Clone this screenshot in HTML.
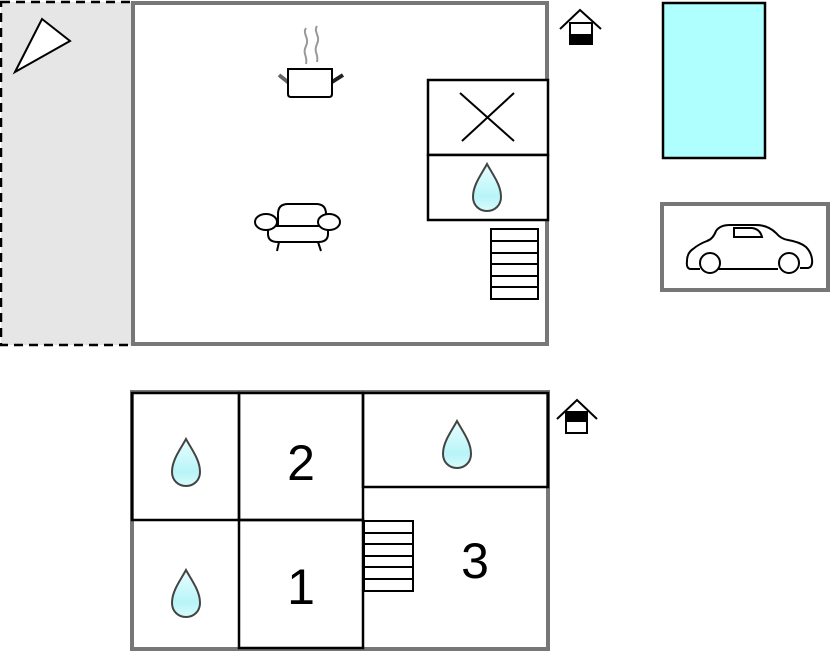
<!DOCTYPE html>
<html><head><meta charset="utf-8"><style>html,body{margin:0;padding:0;background:#fff;width:832px;height:652px;overflow:hidden}</style></head>
<body>
<svg width="832" height="652" viewBox="0 0 832 652" xmlns="http://www.w3.org/2000/svg">
<defs>
<linearGradient id="dg" x1="0" y1="0" x2="0" y2="1"><stop offset="0" stop-color="#e8ffff"/><stop offset="0.7" stop-color="#b8f4f8"/><stop offset="1" stop-color="#d8fcfc"/></linearGradient>
<path id="drop" d="M0,-23 C6,-12 14,-2 14,10 C14,18 8,24 0,24 C-8,24 -14,18 -14,10 C-14,-2 -6,-12 0,-23 Z" fill="url(#dg)" stroke="#444" stroke-width="2"/>
</defs>
<!-- terrace -->
<rect x="1" y="2" width="132" height="343" fill="#e6e6e6" stroke="#000" stroke-width="2.5" stroke-dasharray="9,6"/>
<polygon points="15,72 42,19 70,41" fill="#fff" stroke="#000" stroke-width="2"/>
<!-- main room -->
<rect x="133" y="3" width="414" height="341" fill="#fff" stroke="#777" stroke-width="4"/>
<!-- pot -->
<path d="M306,28 c-4,6 4,10 0,18 c-4,8 2,10 0,18 M317,26 c-4,6 4,10 0,18 c-4,8 2,10 0,18" fill="none" stroke="#999" stroke-width="2"/>
<line x1="279" y1="75" x2="289" y2="83" stroke="#666" stroke-width="4"/>
<line x1="332" y1="82" x2="343" y2="75" stroke="#222" stroke-width="4"/>
<path d="M288,69 H332 V94 q0,3 -3,3 H291 q-3,0 -3,-3 Z" fill="#fff" stroke="#000" stroke-width="2"/>
<!-- sofa -->
<path d="M278,214 q0,-10 10,-10 h28 q10,0 10,10 v12 h-48 Z" fill="#fff" stroke="#000" stroke-width="2"/>
<path d="M268,226 h60 v8 q0,8 -10,8 h-40 q-10,0 -10,-8 Z" fill="#fff" stroke="#000" stroke-width="2"/>
<ellipse cx="266" cy="222" rx="11" ry="8" fill="#fff" stroke="#000" stroke-width="2"/>
<ellipse cx="329" cy="222" rx="11" ry="8" fill="#fff" stroke="#000" stroke-width="2"/>
<line x1="279" y1="242" x2="277" y2="251" stroke="#000" stroke-width="2"/>
<line x1="318" y1="242" x2="321" y2="251" stroke="#000" stroke-width="2"/>
<!-- x box / bath -->
<rect x="428" y="80" width="120" height="75" fill="#fff" stroke="#000" stroke-width="2.5"/>
<rect x="428" y="155" width="120" height="65" fill="#fff" stroke="#000" stroke-width="2.5"/>
<line x1="460" y1="93" x2="514" y2="141" stroke="#000" stroke-width="2"/>
<line x1="514" y1="93" x2="462" y2="141" stroke="#000" stroke-width="2"/>
<use href="#drop" x="487" y="187"/>
<!-- stairs top -->
<g fill="#fff" stroke="#000" stroke-width="2">
<rect x="491" y="229" width="47" height="70"/>
<line x1="491" y1="241" x2="538" y2="241"/><line x1="491" y1="253" x2="538" y2="253"/><line x1="491" y1="264" x2="538" y2="264"/><line x1="491" y1="276" x2="538" y2="276"/><line x1="491" y1="287" x2="538" y2="287"/>
</g>
<!-- house icon top -->
<polyline points="560,29 580,10 601,29" fill="none" stroke="#000" stroke-width="2"/>
<rect x="570" y="23" width="22" height="21" fill="#fff" stroke="#000" stroke-width="2"/>
<rect x="570" y="34" width="22" height="11" fill="#000"/>
<!-- pool -->
<rect x="663" y="3" width="102" height="155" fill="#b0ffff" stroke="#000" stroke-width="2.5"/>
<!-- garage -->
<rect x="662" y="204" width="166" height="86" fill="#fff" stroke="#777" stroke-width="4"/>
<path d="M691,269 q-5,0 -4,-8 q0,-8 6,-12 q6,-5 14,-8 q6,-2 9,-10 q4,-6 14,-6 h26 q12,0 20,8 q5,6 12,7 q12,2 18,7 q5,5 6,12 q1,8 -4,9 h-8 M778,269 h-60 M700,269 h-9" fill="none" stroke="#000" stroke-width="2"/>
<path d="M734,228 h18 q8,1 10,9 h-28 Z" fill="none" stroke="#000" stroke-width="2"/>
<circle cx="710" cy="263" r="10" fill="#fff" stroke="#000" stroke-width="2"/>
<circle cx="789" cy="263" r="10" fill="#fff" stroke="#000" stroke-width="2"/>
<!-- bottom floor -->
<rect x="132" y="392" width="416" height="257" fill="#fff" stroke="#777" stroke-width="4"/>
<g fill="none" stroke="#000" stroke-width="2.5">
<rect x="132" y="393" width="107" height="127"/>
<rect x="239" y="393" width="124" height="127"/>
<rect x="363" y="393" width="185" height="94"/>
<rect x="239" y="520" width="124" height="128"/>
</g>
<g fill="#fff" stroke="#000" stroke-width="2">
<rect x="364" y="521" width="49" height="70"/>
<line x1="364" y1="533" x2="413" y2="533"/><line x1="364" y1="544" x2="413" y2="544"/><line x1="364" y1="556" x2="413" y2="556"/><line x1="364" y1="567" x2="413" y2="567"/><line x1="364" y1="579" x2="413" y2="579"/>
</g>
<use href="#drop" x="186" y="462"/>
<use href="#drop" x="186" y="593"/>
<use href="#drop" x="457" y="444"/>
<g font-family="Liberation Sans, sans-serif" font-size="50" text-anchor="middle" fill="#000">
<text x="301" y="480">2</text>
<text x="301" y="604">1</text>
<text x="475" y="578">3</text>
</g>
<!-- house icon bottom -->
<polyline points="557,419 577,400 597,419" fill="none" stroke="#000" stroke-width="2"/>
<rect x="566" y="412" width="21" height="21" fill="#fff" stroke="#000" stroke-width="2"/>
<rect x="566" y="412" width="21" height="10" fill="#000"/>
</svg>
</body></html>
